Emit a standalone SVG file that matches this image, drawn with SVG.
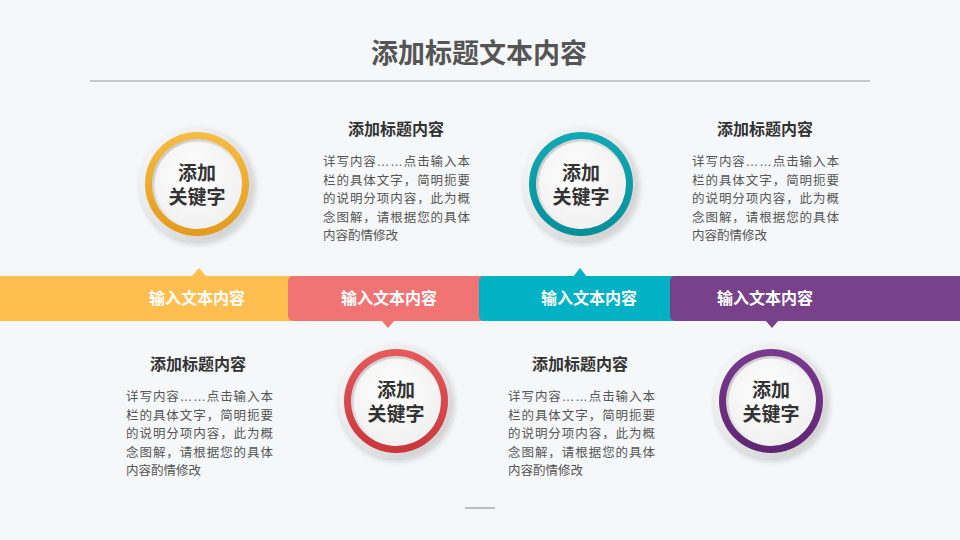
<svg xmlns="http://www.w3.org/2000/svg" width="960" height="540" viewBox="0 0 960 540">
<defs>
<style>
text{font-family:"Noto Sans CJK SC","Noto Sans",sans-serif;}
.title{font-size:27px;font-weight:bold;fill:#555;text-anchor:middle;}
.h{font-size:16px;font-weight:bold;fill:#333;text-anchor:middle;}
.p{font-size:12.5px;fill:#555;}
.el{font-family:"Liberation Sans",sans-serif;}
.band{font-size:16px;font-weight:bold;fill:#fff;text-anchor:middle;}
.key{font-family:"Liberation Sans","Noto Sans CJK SC",sans-serif;font-size:19px;font-weight:bold;fill:#333;text-anchor:middle;}
</style>
<linearGradient id="halo" x1="0" y1="0" x2="1" y2="1">
<stop offset="0" stop-color="#fafafa"/><stop offset="0.5" stop-color="#e6e6e6"/><stop offset="1" stop-color="#cccccc"/>
</linearGradient>
<linearGradient id="bevel" x1="0" y1="0" x2="1" y2="1">
<stop offset="0" stop-color="#c4c4c4"/><stop offset="0.6" stop-color="#ececec"/><stop offset="1" stop-color="#ffffff"/>
</linearGradient>
<radialGradient id="face" cx="0.45" cy="0.4" r="0.6">
<stop offset="0" stop-color="#ffffff"/><stop offset="1" stop-color="#f1f1f1"/>
</radialGradient>
<linearGradient id="gy" x1="0" y1="0" x2="0" y2="1"><stop offset="0" stop-color="#f5bd44"/><stop offset="1" stop-color="#e39b1f"/></linearGradient>
<linearGradient id="gr" x1="0" y1="0" x2="0" y2="1"><stop offset="0" stop-color="#e65a5e"/><stop offset="1" stop-color="#c9363c"/></linearGradient>
<linearGradient id="gt" x1="0" y1="0" x2="0" y2="1"><stop offset="0" stop-color="#12a9b4"/><stop offset="1" stop-color="#078f99"/></linearGradient>
<linearGradient id="gp" x1="0" y1="0" x2="0" y2="1"><stop offset="0" stop-color="#7a3a90"/><stop offset="1" stop-color="#5e2672"/></linearGradient>
<filter id="sh" x="-30%" y="-30%" width="160%" height="160%">
<feGaussianBlur in="SourceAlpha" stdDeviation="3"/><feOffset dx="1" dy="3" result="b"/>
<feComponentTransfer><feFuncA type="linear" slope="0.18"/></feComponentTransfer>
<feMerge><feMergeNode/><feMergeNode in="SourceGraphic"/></feMerge>
</filter>
</defs>
<rect width="960" height="540" fill="#f6f7f9"/>
<text class="title" x="479" y="63">添加标题文本内容</text>
<line x1="90" y1="81" x2="870" y2="81" stroke="#c8c8c8" stroke-width="2"/>
<line x1="465" y1="508" x2="495" y2="508" stroke="#bdbdbd" stroke-width="2"/>

<g id="band">
<rect x="0" y="276" width="300" height="45" fill="#ffbe50"/>
<polygon points="192,276 199,268 206,276" fill="#ffbe50"/>
<rect x="288" y="276" width="210" height="45" rx="5" fill="#f07474"/>
<polygon points="381,320 388,328 395,320" fill="#f07474"/>
<rect x="479" y="276" width="210" height="45" rx="5" fill="#00b2c4"/>
<polygon points="573,277 580,268 587,277" fill="#00b2c4"/>
<rect x="670" y="276" width="300" height="45" rx="5" fill="#78428a"/>
<polygon points="765,320 772,328 779,320" fill="#78428a"/>
<text class="band" x="197" y="304">输入文本内容</text>
<text class="band" x="389" y="304">输入文本内容</text>
<text class="band" x="589" y="304">输入文本内容</text>
<text class="band" x="765" y="304">输入文本内容</text>
</g>

<g id="node1">
<circle cx="197" cy="184" r="57" fill="url(#halo)" filter="url(#sh)"/>
<circle cx="197" cy="184" r="52" fill="url(#gy)"/>
<circle cx="197" cy="184" r="45" fill="url(#bevel)"/>
<circle cx="197.5" cy="184.5" r="43" fill="url(#face)"/>
<text class="key"><tspan x="197" y="180">添加</tspan><tspan x="197" y="203.5">关键字</tspan></text>
</g>
<g id="node2">
<circle cx="396" cy="401" r="57" fill="url(#halo)" filter="url(#sh)"/>
<circle cx="396" cy="401" r="52" fill="url(#gr)"/>
<circle cx="396" cy="401" r="45" fill="url(#bevel)"/>
<circle cx="396.5" cy="401.5" r="43" fill="url(#face)"/>
<text class="key"><tspan x="396" y="397">添加</tspan><tspan x="396" y="420.5">关键字</tspan></text>
</g>
<g id="node3">
<circle cx="581" cy="184" r="57" fill="url(#halo)" filter="url(#sh)"/>
<circle cx="581" cy="184" r="52" fill="url(#gt)"/>
<circle cx="581" cy="184" r="45" fill="url(#bevel)"/>
<circle cx="581.5" cy="184.5" r="43" fill="url(#face)"/>
<text class="key"><tspan x="581" y="180">添加</tspan><tspan x="581" y="203.5">关键字</tspan></text>
</g>
<g id="node4">
<circle cx="771" cy="401" r="57" fill="url(#halo)" filter="url(#sh)"/>
<circle cx="771" cy="401" r="52" fill="url(#gp)"/>
<circle cx="771" cy="401" r="45" fill="url(#bevel)"/>
<circle cx="771.5" cy="401.5" r="43" fill="url(#face)"/>
<text class="key"><tspan x="771" y="397">添加</tspan><tspan x="771" y="420.5">关键字</tspan></text>
</g>

<g id="text1">
<text class="h" x="396" y="135">添加标题内容</text>
<text class="p" x="323" y="166" textLength="147" lengthAdjust="spacing">详写内容<tspan class="el">……</tspan>点击输入本</text>
<text class="p" x="323" y="184.5" textLength="147" lengthAdjust="spacing">栏的具体文字，简明扼要</text>
<text class="p" x="323" y="203" textLength="147" lengthAdjust="spacing">的说明分项内容，此为概</text>
<text class="p" x="323" y="221.5" textLength="147" lengthAdjust="spacing">念图解，请根据您的具体</text>
<text class="p" x="323" y="240">内容酌情修改</text>
</g>
<g id="text2">
<text class="h" x="765" y="135">添加标题内容</text>
<text class="p" x="692" y="166" textLength="147" lengthAdjust="spacing">详写内容<tspan class="el">……</tspan>点击输入本</text>
<text class="p" x="692" y="184.5" textLength="147" lengthAdjust="spacing">栏的具体文字，简明扼要</text>
<text class="p" x="692" y="203" textLength="147" lengthAdjust="spacing">的说明分项内容，此为概</text>
<text class="p" x="692" y="221.5" textLength="147" lengthAdjust="spacing">念图解，请根据您的具体</text>
<text class="p" x="692" y="240">内容酌情修改</text>
</g>
<g id="text3">
<text class="h" x="198" y="370">添加标题内容</text>
<text class="p" x="126" y="401" textLength="147" lengthAdjust="spacing">详写内容<tspan class="el">……</tspan>点击输入本</text>
<text class="p" x="126" y="419.5" textLength="147" lengthAdjust="spacing">栏的具体文字，简明扼要</text>
<text class="p" x="126" y="438" textLength="147" lengthAdjust="spacing">的说明分项内容，此为概</text>
<text class="p" x="126" y="456.5" textLength="147" lengthAdjust="spacing">念图解，请根据您的具体</text>
<text class="p" x="126" y="475">内容酌情修改</text>
</g>
<g id="text4">
<text class="h" x="580" y="370">添加标题内容</text>
<text class="p" x="508" y="401" textLength="147" lengthAdjust="spacing">详写内容<tspan class="el">……</tspan>点击输入本</text>
<text class="p" x="508" y="419.5" textLength="147" lengthAdjust="spacing">栏的具体文字，简明扼要</text>
<text class="p" x="508" y="438" textLength="147" lengthAdjust="spacing">的说明分项内容，此为概</text>
<text class="p" x="508" y="456.5" textLength="147" lengthAdjust="spacing">念图解，请根据您的具体</text>
<text class="p" x="508" y="475">内容酌情修改</text>
</g>
</svg>
